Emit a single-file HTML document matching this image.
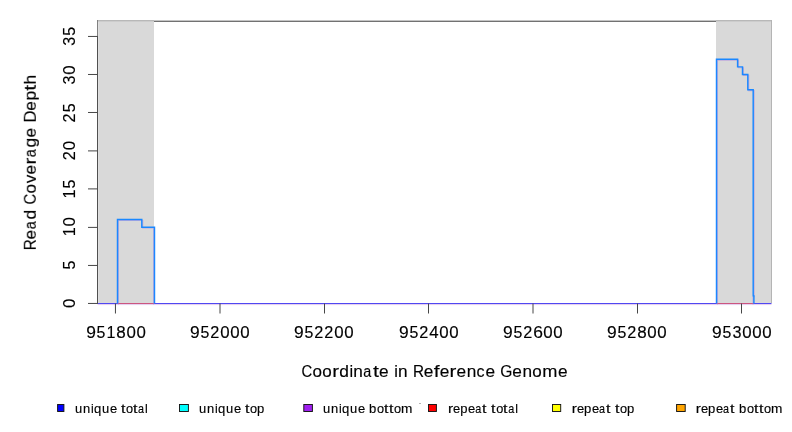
<!DOCTYPE html>
<html><head><meta charset="utf-8"><style>html,body{margin:0;padding:0;background:#fff;overflow:hidden}svg{display:block}text{font-family:"Liberation Sans",sans-serif;fill:#000;stroke:#000;stroke-width:0.15px}</style></head>
<body><svg width="792" height="432" viewBox="0 0 792 432"><rect x="0" y="0" width="792" height="432" fill="#fff"/><g opacity="0.999"><rect x="154" y="20" width="562" height="1" fill="#c4c4c4"/>
<rect x="154" y="21" width="562" height="1" fill="#727272"/>
<rect x="98" y="22" width="56" height="281" fill="#d9d9d9"/>
<rect x="98" y="20" width="56" height="1" fill="#b8b8b8"/>
<rect x="98" y="21" width="56" height="1" fill="#cccccc"/>
<rect x="716" y="22" width="55" height="281" fill="#d9d9d9"/>
<rect x="716" y="20" width="55" height="1" fill="#b8b8b8"/>
<rect x="716" y="21" width="55" height="1" fill="#cccccc"/>
<rect x="771" y="20" width="1" height="283" fill="#b4b4b4"/>
<rect x="97" y="20" width="1" height="16" fill="#808080"/>
<rect x="98" y="22" width="1" height="281" fill="#e0e0e0"/>
<line x1="97.5" y1="304.6" x2="771.5" y2="304.6" stroke="#e4cdee" stroke-width="1"/>
<line x1="97.5" y1="303.5" x2="771.5" y2="303.5" stroke="#5048f2" stroke-width="1.2"/>
<line x1="117.5" y1="303.5" x2="154.5" y2="303.5" stroke="#cc5580" stroke-width="1.2"/>
<line x1="716.5" y1="303.5" x2="753.5" y2="303.5" stroke="#cc5580" stroke-width="1.2"/>
<path d="M118.40,304.40 L118.40,220.43 L142.70,220.43 L142.70,228.06 L153.60,228.06 L153.60,304.40" fill="none" stroke="#a070e0" stroke-opacity="0.45" stroke-width="1.1"/>
<path d="M717.40,304.40 L717.40,60.11 L738.50,60.11 L738.50,67.75 L743.40,67.75 L743.40,75.38 L748.70,75.38 L748.70,90.65 L754.10,90.65 L754.10,296.77 L753.00,296.77 L753.00,304.40" fill="none" stroke="#a070e0" stroke-opacity="0.45" stroke-width="1.1"/>
<path d="M117.50,303.50 L117.50,219.53 L141.80,219.53 L141.80,227.16 L154.50,227.16 L154.50,303.50" fill="none" stroke="#1a88ff" stroke-width="1.45"/>
<path d="M716.50,303.50 L716.50,59.21 L737.60,59.21 L737.60,66.85 L742.50,66.85 L742.50,74.48 L747.80,74.48 L747.80,89.75 L753.20,89.75 L753.20,295.87 L753.90,295.87 L753.90,303.50" fill="none" stroke="#1a88ff" stroke-width="1.45"/>
<line x1="97.5" y1="304.0" x2="97.5" y2="36" stroke="#505050" stroke-width="1.0"/>
<line x1="88" y1="303.44" x2="97.5" y2="303.44" stroke="#464646" stroke-width="1.0"/>
<g transform="translate(75.30,303.44) rotate(-90)"><text transform="translate(-4.60,0) scale(1.054,1.063)" font-size="16.00">0</text></g>
<line x1="88" y1="265.44" x2="97.5" y2="265.44" stroke="#464646" stroke-width="1.0"/>
<g transform="translate(75.30,265.09) rotate(-90)"><text transform="translate(-4.40,0) scale(0.995,1.060)" font-size="16.00">5</text></g>
<line x1="88" y1="227.40" x2="97.5" y2="227.40" stroke="#464646" stroke-width="1.0"/>
<g transform="translate(75.30,226.80) rotate(-90)"><text transform="translate(-9.47,0) scale(1.007,1.060)" font-size="16.00">1</text><text transform="translate(0.40,0) scale(1.054,1.063)" font-size="16.00">0</text></g>
<line x1="88" y1="188.90" x2="97.5" y2="188.90" stroke="#464646" stroke-width="1.0"/>
<g transform="translate(75.30,189.05) rotate(-90)"><text transform="translate(-9.47,0) scale(1.007,1.060)" font-size="16.00">1</text><text transform="translate(0.60,0) scale(0.995,1.060)" font-size="16.00">5</text></g>
<line x1="88" y1="150.90" x2="97.5" y2="150.90" stroke="#464646" stroke-width="1.0"/>
<g transform="translate(75.30,150.65) rotate(-90)"><text transform="translate(-9.65,0) scale(1.016,1.063)" font-size="16.00">2</text><text transform="translate(0.40,0) scale(1.054,1.063)" font-size="16.00">0</text></g>
<line x1="88" y1="112.47" x2="97.5" y2="112.47" stroke="#464646" stroke-width="1.0"/>
<g transform="translate(75.30,112.87) rotate(-90)"><text transform="translate(-9.65,0) scale(1.016,1.063)" font-size="16.00">2</text><text transform="translate(0.60,0) scale(0.995,1.060)" font-size="16.00">5</text></g>
<line x1="88" y1="74.47" x2="97.5" y2="74.47" stroke="#464646" stroke-width="1.0"/>
<g transform="translate(75.30,75.07) rotate(-90)"><text transform="translate(-9.40,0) scale(1.012,1.063)" font-size="16.00">3</text><text transform="translate(0.40,0) scale(1.054,1.063)" font-size="16.00">0</text></g>
<line x1="88" y1="36.44" x2="97.5" y2="36.44" stroke="#464646" stroke-width="1.0"/>
<g transform="translate(75.30,36.44) rotate(-90)"><text transform="translate(-9.40,0) scale(1.012,1.063)" font-size="16.00">3</text><text transform="translate(0.60,0) scale(0.995,1.060)" font-size="16.00">5</text></g>
<line x1="115.45" y1="303.5" x2="115.45" y2="313.5" stroke="#464646" stroke-width="1.0"/>
<g transform="translate(116.00,337.70)"><text transform="translate(-29.81,0) scale(1.089,1.063)" font-size="16.00">9</text><text transform="translate(-19.40,0) scale(0.995,1.060)" font-size="16.00">5</text><text transform="translate(-9.47,0) scale(1.007,1.060)" font-size="16.00">1</text><text transform="translate(0.35,0) scale(1.066,1.063)" font-size="16.00">8</text><text transform="translate(10.40,0) scale(1.054,1.063)" font-size="16.00">0</text><text transform="translate(20.40,0) scale(1.054,1.063)" font-size="16.00">0</text></g>
<line x1="220.00" y1="303.5" x2="220.00" y2="313.5" stroke="#464646" stroke-width="1.0"/>
<g transform="translate(219.90,337.70)"><text transform="translate(-29.81,0) scale(1.089,1.063)" font-size="16.00">9</text><text transform="translate(-19.40,0) scale(0.995,1.060)" font-size="16.00">5</text><text transform="translate(-9.65,0) scale(1.016,1.063)" font-size="16.00">2</text><text transform="translate(0.40,0) scale(1.054,1.063)" font-size="16.00">0</text><text transform="translate(10.40,0) scale(1.054,1.063)" font-size="16.00">0</text><text transform="translate(20.40,0) scale(1.054,1.063)" font-size="16.00">0</text></g>
<line x1="324.50" y1="303.5" x2="324.50" y2="313.5" stroke="#464646" stroke-width="1.0"/>
<g transform="translate(323.90,337.70)"><text transform="translate(-29.81,0) scale(1.089,1.063)" font-size="16.00">9</text><text transform="translate(-19.40,0) scale(0.995,1.060)" font-size="16.00">5</text><text transform="translate(-9.65,0) scale(1.016,1.063)" font-size="16.00">2</text><text transform="translate(0.35,0) scale(1.016,1.063)" font-size="16.00">2</text><text transform="translate(10.40,0) scale(1.054,1.063)" font-size="16.00">0</text><text transform="translate(20.40,0) scale(1.054,1.063)" font-size="16.00">0</text></g>
<line x1="428.50" y1="303.5" x2="428.50" y2="313.5" stroke="#464646" stroke-width="1.0"/>
<g transform="translate(428.90,337.70)"><text transform="translate(-29.81,0) scale(1.089,1.063)" font-size="16.00">9</text><text transform="translate(-19.40,0) scale(0.995,1.060)" font-size="16.00">5</text><text transform="translate(-9.65,0) scale(1.016,1.063)" font-size="16.00">2</text><text transform="translate(0.39,0) scale(1.054,1.060)" font-size="16.00">4</text><text transform="translate(10.40,0) scale(1.054,1.063)" font-size="16.00">0</text><text transform="translate(20.40,0) scale(1.054,1.063)" font-size="16.00">0</text></g>
<line x1="533.00" y1="303.5" x2="533.00" y2="313.5" stroke="#464646" stroke-width="1.0"/>
<g transform="translate(532.90,337.70)"><text transform="translate(-29.81,0) scale(1.089,1.063)" font-size="16.00">9</text><text transform="translate(-19.40,0) scale(0.995,1.060)" font-size="16.00">5</text><text transform="translate(-9.65,0) scale(1.016,1.063)" font-size="16.00">2</text><text transform="translate(0.23,0) scale(1.091,1.063)" font-size="16.00">6</text><text transform="translate(10.40,0) scale(1.054,1.063)" font-size="16.00">0</text><text transform="translate(20.40,0) scale(1.054,1.063)" font-size="16.00">0</text></g>
<line x1="637.50" y1="303.5" x2="637.50" y2="313.5" stroke="#464646" stroke-width="1.0"/>
<g transform="translate(636.90,337.70)"><text transform="translate(-29.81,0) scale(1.089,1.063)" font-size="16.00">9</text><text transform="translate(-19.40,0) scale(0.995,1.060)" font-size="16.00">5</text><text transform="translate(-9.65,0) scale(1.016,1.063)" font-size="16.00">2</text><text transform="translate(0.35,0) scale(1.066,1.063)" font-size="16.00">8</text><text transform="translate(10.40,0) scale(1.054,1.063)" font-size="16.00">0</text><text transform="translate(20.40,0) scale(1.054,1.063)" font-size="16.00">0</text></g>
<line x1="741.50" y1="303.5" x2="741.50" y2="313.5" stroke="#464646" stroke-width="1.0"/>
<g transform="translate(741.90,337.70)"><text transform="translate(-29.81,0) scale(1.089,1.063)" font-size="16.00">9</text><text transform="translate(-19.40,0) scale(0.995,1.060)" font-size="16.00">5</text><text transform="translate(-9.40,0) scale(1.012,1.063)" font-size="16.00">3</text><text transform="translate(0.40,0) scale(1.054,1.063)" font-size="16.00">0</text><text transform="translate(10.40,0) scale(1.054,1.063)" font-size="16.00">0</text><text transform="translate(20.40,0) scale(1.054,1.063)" font-size="16.00">0</text></g>
<g transform="translate(434.50,376.80)"><text transform="translate(-133.08,0) scale(0.928,1.063)" font-size="16.00">C</text><text transform="translate(-122.11,0) scale(1.063,1.041)" font-size="16.00">o</text><text transform="translate(-112.16,0) scale(1.063,1.041)" font-size="16.00">o</text><text transform="translate(-102.28,0) scale(1.281,1.041)" font-size="16.00">r</text><text transform="translate(-95.26,0) scale(1.087,1.049)" font-size="16.00">d</text><text transform="translate(-85.04,0) scale(1.022,1.049)" font-size="16.00">i</text><text transform="translate(-81.18,0) scale(1.078,1.041)" font-size="16.00">n</text><text transform="translate(-71.19,0) scale(0.899,1.041)" font-size="16.00">a</text><text transform="translate(-61.48,0) scale(1.337,1.086)" font-size="16.00">t</text><text transform="translate(-55.48,0) scale(1.080,1.041)" font-size="16.00">e</text><text transform="translate(-40.28,0) scale(1.022,1.049)" font-size="16.00">i</text><text transform="translate(-36.42,0) scale(1.078,1.041)" font-size="16.00">n</text><text transform="translate(-21.50,0) scale(0.956,1.060)" font-size="16.00">R</text><text transform="translate(-10.72,0) scale(1.080,1.041)" font-size="16.00">e</text><text transform="translate(-0.84,0) scale(1.313,1.050)" font-size="16.00">f</text><text transform="translate(5.20,0) scale(1.080,1.041)" font-size="16.00">e</text><text transform="translate(15.09,0) scale(1.281,1.041)" font-size="16.00">r</text><text transform="translate(22.11,0) scale(1.080,1.041)" font-size="16.00">e</text><text transform="translate(32.21,0) scale(1.078,1.041)" font-size="16.00">n</text><text transform="translate(42.06,0) scale(1.003,1.041)" font-size="16.00">c</text><text transform="translate(50.95,0) scale(1.080,1.041)" font-size="16.00">e</text><text transform="translate(65.83,0) scale(0.975,1.063)" font-size="16.00">G</text><text transform="translate(77.81,0) scale(1.080,1.041)" font-size="16.00">e</text><text transform="translate(87.91,0) scale(1.078,1.041)" font-size="16.00">n</text><text transform="translate(97.72,0) scale(1.063,1.041)" font-size="16.00">o</text><text transform="translate(107.73,0) scale(1.139,1.041)" font-size="16.00">m</text><text transform="translate(123.57,0) scale(1.080,1.041)" font-size="16.00">e</text></g>
<g transform="translate(35.80,162.00) rotate(-90)"><text transform="translate(-88.22,0) scale(0.956,1.060)" font-size="16.00">R</text><text transform="translate(-77.41,0) scale(1.080,1.041)" font-size="16.00">e</text><text transform="translate(-67.23,0) scale(0.899,1.041)" font-size="16.00">a</text><text transform="translate(-57.44,0) scale(1.087,1.049)" font-size="16.00">d</text><text transform="translate(-42.48,0) scale(0.928,1.063)" font-size="16.00">C</text><text transform="translate(-31.48,0) scale(1.063,1.041)" font-size="16.00">o</text><text transform="translate(-21.25,0) scale(1.079,1.035)" font-size="16.00">v</text><text transform="translate(-12.54,0) scale(1.080,1.041)" font-size="16.00">e</text><text transform="translate(-2.61,0) scale(1.281,1.041)" font-size="16.00">r</text><text transform="translate(4.63,0) scale(0.899,1.041)" font-size="16.00">a</text><text transform="translate(14.41,0) scale(1.087,1.044)" font-size="16.00">g</text><text transform="translate(24.39,0) scale(1.080,1.041)" font-size="16.00">e</text><text transform="translate(39.42,0) scale(1.035,1.060)" font-size="16.00">D</text><text transform="translate(51.33,0) scale(1.080,1.041)" font-size="16.00">e</text><text transform="translate(61.50,0) scale(1.088,1.042)" font-size="16.00">p</text><text transform="translate(71.26,0) scale(1.337,1.086)" font-size="16.00">t</text><text transform="translate(77.38,0) scale(1.086,1.049)" font-size="16.00">h</text></g>
<rect x="57.60" y="404.5" width="6.30" height="7" fill="#0000ff" stroke="#141414" stroke-width="0.95"/>
<g transform="translate(74.80,412.50)"><text transform="translate(0.18,0) scale(1.078,1.060)" font-size="12.00">u</text><text transform="translate(8.23,0) scale(1.078,1.041)" font-size="12.00">n</text><text transform="translate(16.31,0) scale(1.022,1.049)" font-size="12.00">i</text><text transform="translate(19.12,0) scale(1.086,1.041)" font-size="12.00">q</text><text transform="translate(27.18,0) scale(1.078,1.060)" font-size="12.00">u</text><text transform="translate(35.11,0) scale(1.080,1.041)" font-size="12.00">e</text><text transform="translate(46.08,0) scale(1.337,1.086)" font-size="12.00">t</text><text transform="translate(51.13,0) scale(1.063,1.041)" font-size="12.00">o</text><text transform="translate(58.08,0) scale(1.337,1.086)" font-size="12.00">t</text><text transform="translate(63.26,0) scale(0.899,1.041)" font-size="12.00">a</text><text transform="translate(70.30,0) scale(1.022,1.049)" font-size="12.00">l</text></g>
<rect x="179.50" y="404.5" width="8.90" height="7" fill="#00ffff" stroke="#141414" stroke-width="0.95"/>
<g transform="translate(198.80,412.50)"><text transform="translate(0.18,0) scale(1.078,1.060)" font-size="12.00">u</text><text transform="translate(8.23,0) scale(1.078,1.041)" font-size="12.00">n</text><text transform="translate(16.31,0) scale(1.022,1.049)" font-size="12.00">i</text><text transform="translate(19.12,0) scale(1.086,1.041)" font-size="12.00">q</text><text transform="translate(27.18,0) scale(1.078,1.060)" font-size="12.00">u</text><text transform="translate(35.11,0) scale(1.080,1.041)" font-size="12.00">e</text><text transform="translate(46.08,0) scale(1.337,1.086)" font-size="12.00">t</text><text transform="translate(51.13,0) scale(1.063,1.041)" font-size="12.00">o</text><text transform="translate(58.25,0) scale(1.088,1.042)" font-size="12.00">p</text></g>
<rect x="303.80" y="404.5" width="8.60" height="7" fill="#a020f0" stroke="#141414" stroke-width="0.95"/>
<g transform="translate(322.80,412.50)"><text transform="translate(0.18,0) scale(1.078,1.060)" font-size="12.00">u</text><text transform="translate(8.23,0) scale(1.078,1.041)" font-size="12.00">n</text><text transform="translate(16.31,0) scale(1.022,1.049)" font-size="12.00">i</text><text transform="translate(19.12,0) scale(1.086,1.041)" font-size="12.00">q</text><text transform="translate(27.18,0) scale(1.078,1.060)" font-size="12.00">u</text><text transform="translate(35.11,0) scale(1.080,1.041)" font-size="12.00">e</text><text transform="translate(46.25,0) scale(1.088,1.049)" font-size="12.00">b</text><text transform="translate(54.13,0) scale(1.063,1.041)" font-size="12.00">o</text><text transform="translate(61.08,0) scale(1.337,1.086)" font-size="12.00">t</text><text transform="translate(66.08,0) scale(1.337,1.086)" font-size="12.00">t</text><text transform="translate(71.13,0) scale(1.063,1.041)" font-size="12.00">o</text><text transform="translate(78.18,0) scale(1.139,1.041)" font-size="12.00">m</text></g>
<rect x="428.50" y="404.5" width="7.90" height="7" fill="#ff0000" stroke="#141414" stroke-width="0.95"/>
<g transform="translate(448.00,412.50)"><text transform="translate(0.07,0) scale(1.281,1.041)" font-size="12.00">r</text><text transform="translate(5.11,0) scale(1.080,1.041)" font-size="12.00">e</text><text transform="translate(12.25,0) scale(1.088,1.042)" font-size="12.00">p</text><text transform="translate(20.11,0) scale(1.080,1.041)" font-size="12.00">e</text><text transform="translate(27.26,0) scale(0.899,1.041)" font-size="12.00">a</text><text transform="translate(34.08,0) scale(1.337,1.086)" font-size="12.00">t</text><text transform="translate(43.08,0) scale(1.337,1.086)" font-size="12.00">t</text><text transform="translate(48.13,0) scale(1.063,1.041)" font-size="12.00">o</text><text transform="translate(55.08,0) scale(1.337,1.086)" font-size="12.00">t</text><text transform="translate(60.26,0) scale(0.899,1.041)" font-size="12.00">a</text><text transform="translate(67.30,0) scale(1.022,1.049)" font-size="12.00">l</text></g>
<rect x="552.50" y="404.5" width="8.20" height="7" fill="#ffff00" stroke="#141414" stroke-width="0.95"/>
<g transform="translate(571.80,412.50)"><text transform="translate(0.07,0) scale(1.281,1.041)" font-size="12.00">r</text><text transform="translate(5.11,0) scale(1.080,1.041)" font-size="12.00">e</text><text transform="translate(12.25,0) scale(1.088,1.042)" font-size="12.00">p</text><text transform="translate(20.11,0) scale(1.080,1.041)" font-size="12.00">e</text><text transform="translate(27.26,0) scale(0.899,1.041)" font-size="12.00">a</text><text transform="translate(34.08,0) scale(1.337,1.086)" font-size="12.00">t</text><text transform="translate(43.08,0) scale(1.337,1.086)" font-size="12.00">t</text><text transform="translate(48.13,0) scale(1.063,1.041)" font-size="12.00">o</text><text transform="translate(55.25,0) scale(1.088,1.042)" font-size="12.00">p</text></g>
<rect x="676.60" y="404.5" width="8.60" height="7" fill="#ffa500" stroke="#141414" stroke-width="0.95"/>
<g transform="translate(695.80,412.50)"><text transform="translate(0.07,0) scale(1.281,1.041)" font-size="12.00">r</text><text transform="translate(5.11,0) scale(1.080,1.041)" font-size="12.00">e</text><text transform="translate(12.25,0) scale(1.088,1.042)" font-size="12.00">p</text><text transform="translate(20.11,0) scale(1.080,1.041)" font-size="12.00">e</text><text transform="translate(27.26,0) scale(0.899,1.041)" font-size="12.00">a</text><text transform="translate(34.08,0) scale(1.337,1.086)" font-size="12.00">t</text><text transform="translate(43.25,0) scale(1.088,1.049)" font-size="12.00">b</text><text transform="translate(51.13,0) scale(1.063,1.041)" font-size="12.00">o</text><text transform="translate(58.08,0) scale(1.337,1.086)" font-size="12.00">t</text><text transform="translate(63.08,0) scale(1.337,1.086)" font-size="12.00">t</text><text transform="translate(68.13,0) scale(1.063,1.041)" font-size="12.00">o</text><text transform="translate(75.18,0) scale(1.139,1.041)" font-size="12.00">m</text></g>
<rect x="419" y="403" width="2" height="1" fill="#b4b4b4"/></g></svg></body></html>
